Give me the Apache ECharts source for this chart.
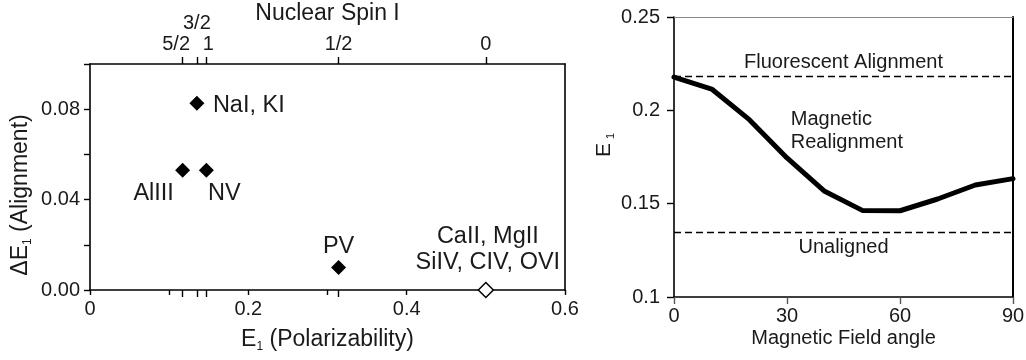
<!DOCTYPE html>
<html>
<head>
<meta charset="utf-8">
<script src="https://cdn.jsdelivr.net/npm/echarts@6/dist/echarts.min.js"></script>
<style>
  html, body { margin: 0; padding: 0; background: #fff; }
  #chart { width: 1026px; height: 360px; }
</style>
</head>
<body>
<div id="chart"></div>
<script>
// left panel: polarizability vs alignment
const species = ['AlIII', 'NaI, KI', 'NV', 'PV', 'CaII, MgII\nSiIV, CIV, OVI']
const polarizability = [0.117, 0.135, 0.147, 0.314, 0.5]
const alignment = [0.053, 0.0826, 0.053, 0.010, 0.0]

// top axis: nuclear spin at the same positions
const spinTicks = [0.117, 0.135, 0.147, 0.314, 0.5]
const spinLabels = ['5/2', '3/2', '1', '1/2', '0']

// right panel: E1 vs magnetic field angle
const angles = [0, 10, 20, 30, 40, 50, 60, 70, 80, 90]
const e1Values = [0.2178, 0.2114, 0.195, 0.1745, 0.1566, 0.1464, 0.1462, 0.1525, 0.160, 0.1634]
const fluorescentLevel = 0.2184
const unalignedLevel = 0.1348

const FONT = '"Liberation Sans", Arial, Helvetica, sans-serif'
const INK = '#1a1a1a'

// where each species label sits relative to its marker
const labelPlace = [
  { offset: [-29, 23], align: 'center' },
  { offset: [16, 2], align: 'left' },
  { offset: [18, 23], align: 'center' },
  { offset: [0, -21], align: 'center' },
  { offset: [2, -40], align: 'center' }
]

const spinRich = ['a', 'b', 'c', 'd', 'e']

const chart = echarts.init(document.getElementById('chart'), null, { renderer: 'canvas' })

const axisText = { color: INK, fontFamily: FONT, fontSize: 20 }
const blackLine = { show: true, onZero: false, lineStyle: { color: '#000', width: 1.6 } }
const subRich = {
  n: { fontFamily: FONT, fontSize: 23, color: INK, lineHeight: 26 },
  s: { fontFamily: FONT, fontSize: 12, color: INK, lineHeight: 12, verticalAlign: 'bottom' }
}

const scatterData = polarizability.map((x, i) => {
  const open = i === polarizability.length - 1
  return {
    value: [x, alignment[i]],
    itemStyle: open
      ? { color: '#fff', borderColor: '#000', borderWidth: 1.5, opacity: 1 }
      : { color: '#000', opacity: 1 },
    label: {
      show: true,
      formatter: species[i],
      position: 'inside',
      align: labelPlace[i].align,
      verticalAlign: 'middle',
      offset: labelPlace[i].offset,
      color: INK,
      fontFamily: FONT,
      fontSize: 23.5,
      lineHeight: 26
    }
  }
})

const option = {
  backgroundColor: '#fff',
  animation: false,
  grid: [
    { left: 90, top: 64, width: 475, height: 226, containLabel: false, outerBoundsMode: 'none' },
    { left: 674, top: 17, width: 339, height: 280, containLabel: false, outerBoundsMode: 'none' }
  ],
  xAxis: [
    {
      gridIndex: 0, type: 'value', position: 'bottom',
      min: 0, max: 0.6, interval: 0.1,
      axisLine: blackLine,
      axisTick: { show: true, inside: false, length: 5, lineStyle: { color: '#000', width: 1.4 } },
      axisLabel: {
        ...axisText, margin: 9,
        customValues: [0, 0.2, 0.4, 0.6],
        formatter: v => (v === 0 ? '0' : String(+v.toFixed(1)))
      },
      splitLine: { show: false },
      name: '{n|E}{s|1}{n| (Polarizability)}',
      nameLocation: 'middle', nameGap: 37, nameMoveOverlap: false,
      nameTextStyle: { rich: subRich }
    },
    {
      gridIndex: 0, type: 'value', position: 'top',
      min: 0, max: 0.6,
      axisLine: blackLine,
      axisTick: { show: true, inside: false, length: 7, customValues: spinTicks, lineStyle: { color: '#000', width: 1.4 } },
      axisLabel: {
        ...axisText, margin: 10,
        showMinLabel: true, showMaxLabel: true,
        customValues: spinTicks,
        formatter: v => {
          const i = spinTicks.indexOf(v)
          return i < 0 ? '' : '{' + spinRich[i] + '|' + spinLabels[i] + '}'
        },
        rich: {
          a: { fontFamily: FONT, fontSize: 20, color: INK, padding: [0, 13, 0, 0] },
          b: { fontFamily: FONT, fontSize: 20, color: INK, padding: [0, 0, 21, 0] },
          c: { fontFamily: FONT, fontSize: 20, color: INK, padding: [0, 0, 0, 4] },
          d: { fontFamily: FONT, fontSize: 20, color: INK },
          e: { fontFamily: FONT, fontSize: 20, color: INK }
        }
      },
      splitLine: { show: false },
      name: 'Nuclear Spin I',
      nameLocation: 'middle', nameGap: 39, nameMoveOverlap: false,
      nameTextStyle: { color: INK, fontFamily: FONT, fontSize: 23 }
    },
    {
      gridIndex: 0, type: 'value', position: 'top',
      min: 0, max: 0.6,
      axisLine: { show: false },
      axisTick: { show: true, inside: true, length: 7, customValues: spinTicks, lineStyle: { color: '#000', width: 1.4 } },
      axisLabel: { show: false },
      splitLine: { show: false }
    },
    {
      gridIndex: 1, type: 'value', position: 'bottom',
      min: 0, max: 90, interval: 30,
      axisLine: blackLine,
      axisTick: { show: true, inside: false, length: 7, lineStyle: { color: '#555', width: 1.4 } },
      axisLabel: { ...axisText, margin: 9 },
      splitLine: { show: false },
      name: 'Magnetic Field angle',
      nameLocation: 'middle', nameGap: 31, nameMoveOverlap: false,
      nameTextStyle: { color: INK, fontFamily: FONT, fontSize: 20 }
    },
    {
      gridIndex: 1, type: 'value', position: 'top',
      min: 0, max: 90,
      axisLine: { show: true, onZero: false, lineStyle: { color: '#888', width: 1 } },
      axisTick: { show: false }, axisLabel: { show: false }, splitLine: { show: false }
    }
  ],
  yAxis: [
    {
      gridIndex: 0, type: 'value', position: 'left',
      min: 0, max: 0.1, interval: 0.02,
      axisLine: blackLine,
      axisTick: { show: true, inside: false, length: 6, lineStyle: { color: '#000', width: 1.4 } },
      axisLabel: {
        ...axisText, margin: 10,
        customValues: [0, 0.04, 0.08],
        formatter: v => v.toFixed(2)
      },
      splitLine: { show: false },
      name: '{n|ΔE}{s|1}{n| (Alignment)}',
      nameLocation: 'middle', nameGap: 56, nameRotate: 90, nameMoveOverlap: false,
      nameTextStyle: { padding: [0, 36, 0, 0], rich: subRich }
    },
    {
      gridIndex: 0, type: 'value', position: 'right',
      min: 0, max: 0.1,
      axisLine: blackLine,
      axisTick: { show: false }, axisLabel: { show: false }, splitLine: { show: false }
    },
    {
      gridIndex: 1, type: 'value', position: 'left',
      min: 0.1, max: 0.25, interval: 0.05,
      axisLine: blackLine,
      axisTick: { show: true, inside: false, length: 7, lineStyle: { color: '#000', width: 1.4 } },
      axisLabel: { ...axisText, margin: 14, formatter: v => String(+v.toFixed(2)) },
      splitLine: { show: false },
      name: '{n|E}{s|1}',
      nameLocation: 'middle', nameGap: 58, nameRotate: 90, nameMoveOverlap: false,
      nameTextStyle: {
        padding: [0, 0, 0, 24],
        rich: {
          n: { fontFamily: FONT, fontSize: 21, color: INK, lineHeight: 24 },
          s: { fontFamily: FONT, fontSize: 11, color: INK, lineHeight: 12, verticalAlign: 'bottom', padding: [0, 0, 0, 4] }
        }
      }
    },
    {
      gridIndex: 1, type: 'value', position: 'right',
      min: 0.1, max: 0.25,
      axisLine: { show: true, onZero: false, lineStyle: { color: '#000', width: 2 } },
      axisTick: { show: false }, axisLabel: { show: false }, splitLine: { show: false }
    }
  ],
  series: [
    {
      type: 'scatter',
      xAxisIndex: 0, yAxisIndex: 0,
      symbol: 'diamond',
      symbolSize: 15,
      itemStyle: { opacity: 1 },
      data: scatterData,
      z: 5
    },
    {
      type: 'line',
      xAxisIndex: 3, yAxisIndex: 2,
      data: angles.map((a, i) => [a, e1Values[i]]),
      symbol: 'none',
      lineStyle: { color: '#000', width: 5, join: 'round', cap: 'round' },
      z: 5,
      markLine: {
        silent: true,
        symbol: 'none',
        precision: 4,
        lineStyle: { color: '#000', width: 1.3, type: [7, 4] },
        data: [
          {
            yAxis: fluorescentLevel,
            label: {
              show: true, position: 'insideMiddleTop', distance: 4,
              formatter: 'Fluorescent Alignment',
              color: INK, fontFamily: FONT, fontSize: 20
            }
          },
          {
            yAxis: unalignedLevel,
            label: {
              show: true, position: 'insideMiddleBottom', distance: 5,
              formatter: 'Unaligned',
              color: INK, fontFamily: FONT, fontSize: 20
            }
          }
        ]
      },
      markPoint: {
        silent: true,
        symbol: 'circle', symbolSize: 0,
        data: [{
          coord: [31, 0.1889],
          label: {
            show: true, position: 'right', distance: 0,
            align: 'left', verticalAlign: 'middle',
            formatter: 'Magnetic\nRealignment',
            color: INK, fontFamily: FONT, fontSize: 20, lineHeight: 23
          }
        }]
      }
    }
  ]
}

chart.setOption(option)
</script>
</body>
</html>
